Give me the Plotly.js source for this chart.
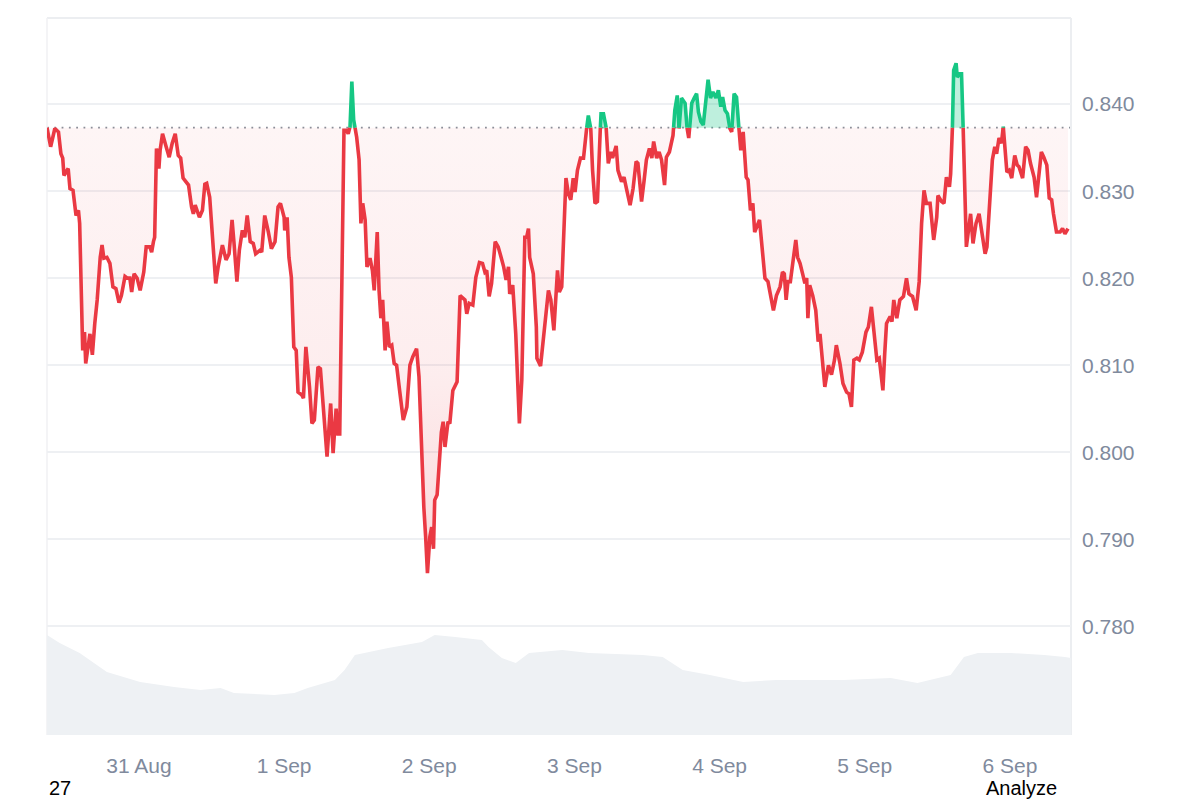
<!DOCTYPE html>
<html>
<head>
<meta charset="utf-8">
<script src="https://cdn.plot.ly/plotly-3.0.1.min.js"></script>
<style>
  html, body { margin: 0; padding: 0; background: #ffffff; }
  #chart { width: 1200px; height: 800px; }
</style>
</head>
<body>
<div id="chart"></div>
<script>
// ---- data (hours since 30 Aug 00:00) ----
const hours = [8.8,9.4,10.1,10.7,11.1,11.4,11.6,12.3,12.6,13.1,13.6,14.0,14.2,14.7,15.0,15.2,15.9,16.3,16.7,17.1,17.6,17.9,18.2,18.7,19.2,19.7,20.2,20.7,21.1,21.7,22.1,22.5,22.8,23.2,23.7,24.2,24.8,25.2,25.8,26.1,26.4,26.6,26.9,27.3,27.5,27.9,28.5,29.0,29.5,30.0,30.5,30.9,31.3,32.2,32.7,33.0,33.3,34.0,34.5,34.9,35.2,35.7,36.7,37.1,37.8,38.4,38.9,39.4,39.7,40.2,40.6,41.1,41.5,41.9,42.4,42.9,43.3,44.0,44.3,44.8,45.4,45.9,46.5,47.0,47.4,48.0,48.1,48.5,48.8,49.2,49.6,50.0,50.3,50.9,51.2,51.6,52.2,52.6,53.0,53.6,54.0,54.7,55.1,55.7,56.1,56.6,56.9,57.2,57.5,57.9,58.3,58.6,58.9,59.2,59.5,60.0,60.4,60.7,61.0,61.4,61.7,62.2,62.6,62.9,63.4,63.7,64.0,64.3,64.7,65.0,65.4,65.8,66.2,66.6,67.1,67.7,68.3,68.8,69.3,69.9,70.3,70.7,71.1,71.4,71.7,72.1,72.4,72.7,72.9,73.3,73.6,74.0,74.3,74.6,75.1,75.4,75.9,76.2,76.6,77.1,77.5,77.9,78.2,78.6,79.2,79.7,80.3,80.8,81.2,81.5,81.9,82.3,82.9,83.4,84.0,84.3,84.7,85.1,85.3,85.8,86.3,86.9,87.3,87.8,88.1,88.4,88.6,89.2,89.7,89.8,90.4,90.8,91.3,91.7,92.1,92.6,93.2,93.5,93.9,94.1,94.4,94.6,95.0,95.4,95.8,96.1,96.5,97.0,97.5,97.9,98.3,98.7,99.0,99.4,99.8,100.1,100.4,100.8,101.2,101.6,102.0,102.3,102.9,103.2,103.8,104.2,104.6,105.2,105.7,106.2,106.5,107.1,107.5,107.9,108.4,108.8,109.1,109.6,110.0,110.4,110.9,111.2,111.7,112.0,112.3,112.6,113.0,113.3,113.7,114.3,114.5,114.9,115.4,115.8,116.2,116.5,116.9,117.3,117.7,118.1,118.5,118.9,119.4,119.8,120.2,120.5,120.9,121.3,121.7,122.0,122.4,122.8,123.2,123.5,123.9,124.4,124.7,125.1,125.5,125.8,126.6,127.1,127.5,128.0,128.4,128.9,129.4,130.0,130.4,130.7,131.0,131.3,131.7,132.2,132.6,132.9,133.3,133.8,134.1,134.4,134.6,134.9,135.4,135.9,136.3,136.6,137.0,137.4,138.0,138.5,139.0,139.3,139.9,140.4,141.0,141.4,141.8,142.2,142.7,143.1,143.6,144.2,144.6,145.1,145.5,146.0,146.4,147.0,147.3,147.6,148.2,148.5,148.8,149.3,149.8,150.4,150.9,151.3,151.9,152.5,153.0,153.4,153.8,154.2,154.8,155.4,155.9,156.1,156.7,157.1,157.5,158.0,158.2,158.5,158.7,159.1,159.3,159.7,160.0,160.3,160.5,160.8,161.3,161.5,161.9,162.4,162.9,163.3,163.9,164.2,164.7,165.1,165.5,165.8,166.2,166.6,166.9,167.3,167.5,167.9,168.3,168.8,169.2,169.5,170.1,170.6,171.0,171.4,172.0,172.4,172.8,173.2,173.6,174.1,174.5,174.9,175.2,175.7,176.3,176.7,177.1,177.6];
const price = [0.8373,0.8351,0.8372,0.8368,0.8343,0.8338,0.8318,0.8326,0.8303,0.8301,0.8272,0.8278,0.8263,0.8117,0.8138,0.8102,0.8136,0.8112,0.8148,0.8175,0.8224,0.8238,0.8223,0.8224,0.8217,0.8190,0.8188,0.8172,0.8180,0.8202,0.8200,0.8200,0.8184,0.8205,0.8200,0.8186,0.8207,0.8236,0.8236,0.8230,0.8242,0.8247,0.8349,0.8326,0.8347,0.8366,0.8351,0.8339,0.8355,0.8366,0.8341,0.8338,0.8315,0.8307,0.8282,0.8274,0.8284,0.8270,0.8278,0.8308,0.8309,0.8293,0.8194,0.8213,0.8238,0.8221,0.8228,0.8267,0.8242,0.8196,0.8232,0.8255,0.8247,0.8272,0.8242,0.8240,0.8228,0.8232,0.8230,0.8272,0.8253,0.8234,0.8242,0.8282,0.8286,0.8270,0.8255,0.8270,0.8224,0.8201,0.8121,0.8117,0.8069,0.8066,0.8062,0.8121,0.8075,0.8033,0.8037,0.8098,0.8096,0.8025,0.7995,0.8056,0.7999,0.8050,0.8021,0.8021,0.8171,0.8370,0.8370,0.8366,0.8374,0.8426,0.8382,0.8362,0.8336,0.8263,0.8286,0.8267,0.8213,0.8223,0.8209,0.8186,0.8253,0.8186,0.8154,0.8175,0.8117,0.8150,0.8121,0.8123,0.8102,0.8100,0.8071,0.8037,0.8052,0.8100,0.8110,0.8119,0.8087,0.7999,0.7937,0.7903,0.7861,0.7903,0.7914,0.7889,0.7945,0.7951,0.7987,0.8023,0.8035,0.8006,0.8035,0.8033,0.8071,0.8075,0.8081,0.8180,0.8177,0.8175,0.8159,0.8171,0.8169,0.8201,0.8218,0.8217,0.8207,0.8209,0.8179,0.8194,0.8242,0.8236,0.8221,0.8213,0.8198,0.8213,0.8182,0.8192,0.8136,0.8033,0.8083,0.8247,0.8247,0.8257,0.8224,0.8205,0.8144,0.8108,0.8099,0.8129,0.8167,0.8186,0.8175,0.8140,0.8209,0.8184,0.8190,0.8224,0.8261,0.8315,0.8297,0.8290,0.8315,0.8299,0.8324,0.8338,0.8338,0.8366,0.8387,0.8372,0.8324,0.8286,0.8288,0.8347,0.8389,0.8389,0.8378,0.8332,0.8345,0.8338,0.8352,0.8324,0.8311,0.8316,0.8303,0.8284,0.8303,0.8334,0.8332,0.8288,0.8311,0.8336,0.8349,0.8338,0.8357,0.8338,0.8345,0.8336,0.8307,0.8339,0.8345,0.8355,0.8364,0.8393,0.8410,0.8372,0.8407,0.8401,0.8378,0.8361,0.8401,0.8407,0.8412,0.8391,0.8380,0.8376,0.8401,0.8428,0.8407,0.8414,0.8407,0.8416,0.8397,0.8408,0.8393,0.8389,0.8372,0.8368,0.8412,0.8408,0.8372,0.8347,0.8368,0.8316,0.8313,0.8278,0.8286,0.8253,0.8267,0.8232,0.8200,0.8196,0.8180,0.8163,0.8180,0.8190,0.8207,0.8205,0.8175,0.8196,0.8196,0.8224,0.8244,0.8224,0.8217,0.8203,0.8194,0.8200,0.8154,0.8192,0.8180,0.8163,0.8127,0.8136,0.8106,0.8075,0.8100,0.8089,0.8106,0.8123,0.8102,0.8079,0.8069,0.8067,0.8052,0.8106,0.8108,0.8106,0.8115,0.8138,0.8144,0.8167,0.8140,0.8106,0.8108,0.8071,0.8113,0.8148,0.8156,0.8150,0.8175,0.8154,0.8175,0.8179,0.8200,0.8182,0.8179,0.8163,0.8196,0.8263,0.8301,0.8286,0.8286,0.8244,0.8270,0.8295,0.8288,0.8286,0.8316,0.8305,0.8320,0.8374,0.8439,0.8447,0.8431,0.8435,0.8435,0.8366,0.8290,0.8236,0.8263,0.8274,0.8240,0.8263,0.8274,0.8255,0.8228,0.8236,0.8297,0.8336,0.8351,0.8343,0.8361,0.8355,0.8374,0.8345,0.8322,0.8324,0.8315,0.8341,0.8330,0.8328,0.8315,0.8351,0.8347,0.8332,0.8316,0.8293,0.8324,0.8345,0.8339,0.8330,0.8292,0.8290,0.8274,0.8253,0.8253,0.8257,0.8251,0.8257];
const referencePrice = 0.8373;

const volumeHours = [8.8,10.9,14.2,16.5,18.7,24.2,29.8,34.2,37.5,39.7,46.4,49.7,51.9,56.4,58.0,59.7,65.2,70.8,72.9,76.3,80.7,81.8,84.0,86.3,88.5,94.0,98.4,107.3,110.6,113.9,118.4,123.9,129.4,140.5,148.3,152.7,154.9,158.2,160.4,162.7,168.2,173.7,177.1,178.1];
const volume = [100,92,82,72,63,53,48,45,47,42,40,42,47,55,65,80,87,93,100,98,95,88,77,72,82,85,82,80,78,65,60,53,55,55,57,52,55,60,78,82,82,80,78,77];

const tickHours = [24,48,72,96,120,144,168];
const tickLabels = ['31 Aug','1 Sep','2 Sep','3 Sep','4 Sep','5 Sep','6 Sep'];
const priceTicks = [0.78,0.79,0.80,0.81,0.82,0.83,0.84];

// ---- split the series at the reference price ----
const xs = [], ys = [];
for (let i = 0; i < price.length; i++) {
  if (i > 0) {
    const a = price[i-1], b = price[i];
    if ((a - referencePrice) * (b - referencePrice) < 0) {
      const t = (referencePrice - a) / (b - a);
      xs.push(hours[i-1] + t * (hours[i] - hours[i-1]));
      ys.push(referencePrice);
    }
  }
  xs.push(hours[i]); ys.push(price[i]);
}
const lo = ys.map(v => Math.min(v, referencePrice));
const hi = ys.map(v => Math.max(v, referencePrice));
const base = ys.map(() => referencePrice);
const redLine = ys.map(v => v <= referencePrice ? v : null);
const greenLine = ys.map(v => v >= referencePrice ? v : null);

const RED = '#ea3943', GREEN = '#16c784';

const traces = [
  { x: volumeHours, y: volume, yaxis: 'y2', type: 'scatter', mode: 'lines',
    line: { width: 0, color: '#eef1f4' }, fill: 'tozeroy', fillcolor: '#eef1f4', hoverinfo: 'skip' },
  { x: xs, y: base, type: 'scatter', mode: 'lines', line: { width: 0 }, hoverinfo: 'skip' },
  { x: xs, y: lo, type: 'scatter', mode: 'lines', line: { width: 0 }, fill: 'tonexty',
    fillgradient: { type: 'vertical', start: 0.786, stop: referencePrice,
      colorscale: [[0, 'rgba(234,57,67,0.20)'], [0.45, 'rgba(234,57,67,0.09)'], [1, 'rgba(234,57,67,0.05)']] },
    hoverinfo: 'skip' },
  { x: xs, y: base, type: 'scatter', mode: 'lines', line: { width: 0 }, hoverinfo: 'skip' },
  { x: xs, y: hi, type: 'scatter', mode: 'lines', line: { width: 0 }, fill: 'tonexty',
    fillcolor: 'rgba(22,199,132,0.28)', hoverinfo: 'skip' },
  { x: xs, y: redLine, type: 'scatter', mode: 'lines', connectgaps: false,
    line: { color: RED, width: 3.6, shape: 'linear' } },
  { x: xs, y: greenLine, type: 'scatter', mode: 'lines', connectgaps: false,
    line: { color: GREEN, width: 3.6, shape: 'linear' } }
];

const FONT = 'Liberation Sans, Arial, Helvetica, sans-serif';
const layout = {
  width: 1200, height: 800,
  margin: { l: 47, r: 129, t: 18, b: 65 },
  paper_bgcolor: '#ffffff', plot_bgcolor: '#ffffff',
  showlegend: false,
  font: { family: FONT, color: '#808a9d', size: 21 },
  xaxis: {
    type: 'linear', range: [8.8, 178.1], tickvals: tickHours, ticktext: tickLabels,
    showgrid: false, zeroline: false, showline: false, ticks: '',
    ticklabelstandoff: 16, tickfont: { size: 21, color: '#808a9d', family: FONT }
  },
  yaxis: {
    side: 'right', range: [0.7675, 0.8499], tickvals: priceTicks, tickformat: '.3f',
    showgrid: true, gridcolor: '#eef0f3', gridwidth: 1.5, zeroline: false, showline: false,
    ticks: '', ticklabelstandoff: 10, tickfont: { size: 21, color: '#808a9d', family: FONT }
  },
  yaxis2: { overlaying: 'y', range: [0, 717], visible: false, fixedrange: true },
  shapes: [
    { type: 'line', xref: 'paper', yref: 'y', x0: 0, x1: 1, y0: referencePrice, y1: referencePrice,
      line: { color: '#8a8f99', width: 1.8, dash: '1.8px,5.5px' }, layer: 'below' },
    { type: 'line', xref: 'paper', yref: 'paper', x0: 0, x1: 1, y0: 1, y1: 1,
      line: { color: '#eceef1', width: 2 }, layer: 'below' },
    { type: 'line', xref: 'paper', yref: 'paper', x0: 0, x1: 0, y0: 0, y1: 1,
      line: { color: '#f0f1f3', width: 1.5 }, layer: 'below' },
    { type: 'line', xref: 'paper', yref: 'paper', x0: 1, x1: 1, y0: 0, y1: 1,
      line: { color: '#eceef1', width: 2 }, layer: 'below' }
  ],
  annotations: [
    { text: '27', xref: 'paper', yref: 'paper', x: 0.0, y: -0.0739, xanchor: 'left', yanchor: 'middle',
      showarrow: false, font: { family: FONT, size: 20, color: '#000000' } },
    { text: 'Analyze', xref: 'paper', yref: 'paper', x: 0.988, y: -0.0739, xanchor: 'right', yanchor: 'middle',
      showarrow: false, font: { family: FONT, size: 20, color: '#000000' } }
  ]
};

Plotly.newPlot('chart', traces, layout, { staticPlot: true, displayModeBar: false });
</script>
</body>
</html>
